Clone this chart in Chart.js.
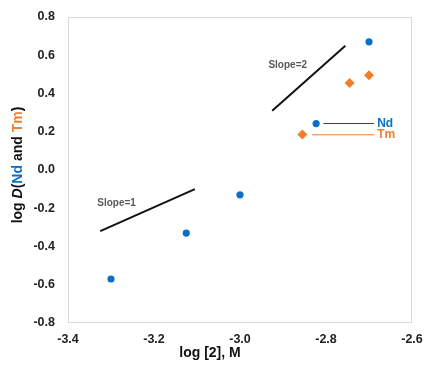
<!DOCTYPE html>
<html>
<head>
<meta charset="utf-8">
<script src="https://cdn.jsdelivr.net/npm/chart.js@4"></script>
<style>
  html, body { margin: 0; padding: 0; background: #fff; }
  #wrap { width: 425px; height: 369px; }
</style>
</head>
<body>
<div id="wrap"><canvas id="chart" width="425" height="369"></canvas></div>
<script>
// values
const ndX = [-3.30, -3.125, -3.00, -2.70];
const ndY = [-0.57, -0.33, -0.13, 0.67];
const tmX = [-2.745, -2.70];
const tmY = [0.455, 0.495];

// slope guide lines
const slope1X = [-3.325, -3.105];
const slope1Y = [-0.32, -0.10];
const slope2X = [-2.925, -2.755];
const slope2Y = [0.31, 0.65];

// key markers + their leader lines
const ndKeyX = [-2.823], ndKeyY = [0.243];
const tmKeyX = [-2.855], tmKeyY = [0.186];
const ndLeadX = [-2.806, -2.688], ndLeadY = [0.243, 0.243];
const tmLeadX = [-2.833, -2.688], tmLeadY = [0.184, 0.184];

// text notes [text, x, y]
const notes = [
  ['Slope=1', -3.287, -0.174],
  ['Slope=2', -2.889, 0.549]
];
const keyLabels = [
  ['Nd', -2.681, 0.243],
  ['Tm', -2.681, 0.187]
];

const xTicks = { min: -3.4, max: -2.6, step: 0.2 };
const yTicks = { min: -0.8, max: 0.8, step: 0.2 };

const BLUE = '#0b6fc7';
const ORANGE = '#f47d2a';
const FONT = '"Liberation Sans", Arial, sans-serif';

const pts = (xs, ys) => xs.map((x, i) => ({ x: x, y: ys[i] }));
const fmt = v => (Math.abs(v) < 1e-9 ? '0.0' : v.toFixed(1));

const decor = {
  id: 'decor',
  beforeDraw(chart) {
    const { ctx, chartArea: a } = chart;
    ctx.save();
    ctx.strokeStyle = '#d9d9d9';
    ctx.lineWidth = 1;
    ctx.strokeRect(Math.round(a.left) + 0.5, Math.round(a.top) + 0.5,
      Math.round(a.right - a.left) - 1, Math.round(a.bottom - a.top) - 1);
    ctx.restore();
  },
  afterDraw(chart) {
    const { ctx, scales } = chart;
    const sx = scales.x, sy = scales.y;
    ctx.save();
    ctx.textBaseline = 'middle';

    // slope notes
    ctx.font = 'bold 10px ' + FONT;
    ctx.fillStyle = '#595959';
    ctx.textAlign = 'center';
    notes.forEach(n => ctx.fillText(n[0], sx.getPixelForValue(n[1]), sy.getPixelForValue(n[2])));

    // key labels
    ctx.font = 'bold 12px ' + FONT;
    ctx.textAlign = 'left';
    keyLabels.forEach((n, i) => {
      ctx.fillStyle = i === 0 ? BLUE : ORANGE;
      ctx.fillText(n[0], sx.getPixelForValue(n[1]), sy.getPixelForValue(n[2]));
    });

    // x title
    ctx.font = 'bold 14px ' + FONT;
    ctx.fillStyle = '#111';
    ctx.textAlign = 'center';
    ctx.fillText('log [2], M', 210, 353);

    // y title, mixed styles
    const parts = [
      ['log ', 'bold', '#111'],
      ['D', 'italic bold', '#111'],
      ['(', 'bold', '#111'],
      ['Nd', 'bold', BLUE],
      [' and ', 'bold', '#111'],
      ['Tm', 'bold', ORANGE],
      [')', 'bold', '#111']
    ];
    let total = 0;
    parts.forEach(p => { ctx.font = p[1] + ' 14px ' + FONT; total += ctx.measureText(p[0]).width; });
    ctx.translate(18, 165);
    ctx.rotate(-Math.PI / 2);
    ctx.textAlign = 'left';
    let cx = -total / 2;
    parts.forEach(p => {
      ctx.font = p[1] + ' 14px ' + FONT;
      ctx.fillStyle = p[2];
      ctx.fillText(p[0], cx, 0);
      cx += ctx.measureText(p[0]).width;
    });
    ctx.restore();
  }
};

const lineSet = (data, color, width) => ({
  data: data, showLine: true, borderColor: color, borderWidth: width,
  pointRadius: 0, fill: false
});

new Chart(document.getElementById('chart'), {
  type: 'scatter',
  data: {
    datasets: [
      lineSet(pts(slope1X, slope1Y), '#111', 2),
      lineSet(pts(slope2X, slope2Y), '#111', 2),
      lineSet(pts(ndLeadX, ndLeadY), '#404040', 1),
      lineSet(pts(tmLeadX, tmLeadY), ORANGE, 1),
      { data: pts(ndX, ndY), pointStyle: 'circle', pointRadius: 3.6, backgroundColor: BLUE, borderColor: BLUE, borderWidth: 0 },
      { data: pts(ndKeyX, ndKeyY), pointStyle: 'circle', pointRadius: 3.6, backgroundColor: BLUE, borderColor: BLUE, borderWidth: 0 },
      { data: pts(tmX, tmY), pointStyle: 'rectRot', pointRadius: 5, backgroundColor: ORANGE, borderColor: ORANGE, borderWidth: 0 },
      { data: pts(tmKeyX, tmKeyY), pointStyle: 'rectRot', pointRadius: 5, backgroundColor: ORANGE, borderColor: ORANGE, borderWidth: 0 }
    ]
  },
  options: {
    responsive: false,
    animation: false,
    layout: { padding: { top: 17, right: 13, left: 0, bottom: 0 } },
    plugins: { legend: { display: false }, tooltip: { enabled: false } },
    scales: {
      x: {
        type: 'linear', min: xTicks.min, max: xTicks.max,
        grid: { display: false, drawTicks: false }, border: { display: false },
        ticks: { stepSize: xTicks.step, padding: 9, color: '#222',
          font: { family: FONT, size: 12.5, weight: 'bold' }, callback: fmt },
        afterFit: s => { s.height = 46; s.paddingLeft = 0; s.paddingRight = 0; }
      },
      y: {
        type: 'linear', min: yTicks.min, max: yTicks.max,
        grid: { display: false, drawTicks: false }, border: { display: false },
        ticks: { stepSize: yTicks.step, padding: 13, color: '#222',
          font: { family: FONT, size: 12.5, weight: 'bold' }, callback: fmt },
        afterFit: s => { s.width = 68; s.paddingTop = 0; s.paddingBottom = 0; }
      }
    }
  },
  plugins: [decor]
});
</script>
</body>
</html>
